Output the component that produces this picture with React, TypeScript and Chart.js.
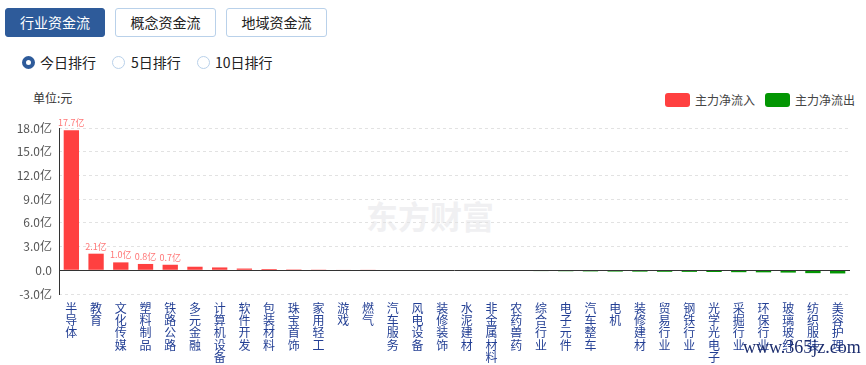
import React, { useEffect, useRef } from "react";
import { Chart, registerables } from "chart.js";

Chart.register(...registerables);

const categories = [
  "半导体", "教育", "文化传媒", "塑料制品", "铁路公路", "多元金融", "计算机设备", "软件开发",
  "包装材料", "珠宝首饰", "家用轻工", "游戏", "燃气", "汽车服务", "风电设备", "装修装饰",
  "水泥建材", "非金属材料", "农药兽药", "综合行业", "电子元件", "汽车整车", "电机", "装修建材",
  "贸易行业", "钢铁行业", "光学光电子", "采掘行业", "环保行业", "玻璃玻纤", "纺织服装", "美容护理",
];

// 主力净流入/流出 (亿元)
const netFlow = [
  17.7, 2.1, 1.0, 0.8, 0.7, 0.45, 0.36, 0.22,
  0.16, 0.11, 0.09, 0.07, 0.05, -0.03, -0.04, -0.05,
  -0.06, -0.07, -0.09, -0.1, -0.12, -0.14, -0.16, -0.17,
  -0.19, -0.2, -0.22, -0.24, -0.26, -0.29, -0.36, -0.4,
];

const seriesNames = ["主力净流入", "主力净流出"];
const yMin = -3;
const yMax = 18;
const yStep = 3;
const labelThreshold = 0.6;

const inflow = netFlow.map((v) => (v > 0 ? v : null));
const outflow = netFlow.map((v) => (v < 0 ? v : null));

const RED = "#ff4040";
const GREEN = "#039603";
const FONT = "'Noto Sans CJK SC', 'Noto Sans', sans-serif";

const overlayPlugin = {
  id: "overlay",
  afterDatasetsDraw(chart: any) {
    const { ctx, chartArea, scales } = chart;
    const y0 = Math.round(scales.y.getPixelForValue(0)) + 0.5;
    ctx.save();
    ctx.strokeStyle = "#333";
    ctx.lineWidth = 1;
    ctx.beginPath();
    ctx.moveTo(chartArea.left, y0);
    ctx.lineTo(chartArea.right, y0);
    ctx.stroke();
    const xa = Math.round(chartArea.left) + 0.5;
    ctx.beginPath();
    ctx.moveTo(xa, chartArea.top);
    ctx.lineTo(xa, chartArea.bottom + 1);
    ctx.stroke();

    const meta = chart.getDatasetMeta(0);
    ctx.font = `9px ${FONT}`;
    ctx.fillStyle = "#ff7676";
    ctx.textAlign = "center";
    ctx.textBaseline = "bottom";
    meta.data.forEach((bar: any, i: number) => {
      const v = inflow[i];
      if (v != null && v >= labelThreshold) {
        ctx.fillText(v.toFixed(1) + "亿", bar.x, bar.y - 3);
      }
    });
    ctx.restore();
  },
};

function FlowChart() {
  const ref = useRef<HTMLCanvasElement | null>(null);
  useEffect(() => {
    if (!ref.current) return;
    const chart = new Chart(ref.current, {
      type: "bar",
      data: {
        labels: categories.map((c) => c.split("")),
        datasets: [
          { label: seriesNames[0], data: inflow as any, backgroundColor: RED, borderWidth: 0 },
          { label: seriesNames[1], data: outflow as any, backgroundColor: GREEN, borderWidth: 0 },
        ],
      },
      options: {
        responsive: false,
        animation: false,
        layout: { padding: { top: 43, right: 16, left: 0, bottom: 0 } },
        datasets: { bar: { categoryPercentage: 1, barPercentage: 0.62 } },
        plugins: { legend: { display: false }, tooltip: { enabled: false } },
        scales: {
          x: {
            stacked: true,
            grid: { display: false, drawTicks: false },
            border: { display: false },
            ticks: {
              autoSkip: false,
              maxRotation: 0,
              minRotation: 0,
              padding: 8,
              color: "#233f94",
              font: { size: 12, lineHeight: 1.03, family: FONT },
            },
            afterFit: (s: any) => {
              s.height = 71;
            },
          },
          y: {
            stacked: true,
            min: yMin,
            max: yMax,
            grid: { color: "#e2e2e2", drawTicks: false, lineWidth: 1 },
            border: { display: false, dash: [3, 3] },
            ticks: {
              stepSize: yStep,
              padding: 7,
              color: "#555",
              font: { size: 12, family: FONT },
              callback: (v: any) => (v === 0 ? "0.0" : Number(v).toFixed(1) + "亿"),
            },
            afterFit: (s: any) => {
              s.width = 59;
            },
          },
        },
      },
      plugins: [overlayPlugin],
    });
    return () => chart.destroy();
  }, []);
  return <canvas ref={ref} width={866} height={280} style={{ width: 866, height: 280, display: "block" }} />;
}

const btnBase: React.CSSProperties = {
  position: "absolute",
  top: 8,
  height: 29,
  width: 101,
  boxSizing: "border-box",
  borderRadius: 3,
  fontSize: 14,
  lineHeight: "27px",
  textAlign: "center",
};

export default function App() {
  const abs = (s: React.CSSProperties): React.CSSProperties => ({ position: "absolute", ...s });
  return (
    <div
      style={{
        position: "fixed",
        left: 0,
        top: 0,
        width: 866,
        height: 365,
        background: "#fff",
        overflow: "hidden",
        fontFamily: FONT,
        color: "#222",
      }}
    >
      <div style={{ ...btnBase, left: 5, width: 100, background: "#2e5b9a", border: "1px solid #2e5b9a", color: "#fff" }}>行业资金流</div>
      <div style={{ ...btnBase, left: 115, background: "#fff", border: "1px solid #b9d1ea" }}>概念资金流</div>
      <div style={{ ...btnBase, left: 226, background: "#fff", border: "1px solid #b9d1ea" }}>地域资金流</div>

      <div style={abs({ left: 21.5, top: 55.5, width: 13, height: 13, borderRadius: "50%", border: "4px solid #2e5b9a", boxSizing: "border-box", background: "#fff" })} />
      <div style={abs({ left: 40, top: 54, fontSize: 14, lineHeight: "16px" })}>今日排行</div>
      <div style={abs({ left: 111.5, top: 55.5, width: 13, height: 13, borderRadius: "50%", border: "1px solid #b9d1ea", boxSizing: "border-box", background: "#fff" })} />
      <div style={abs({ left: 131, top: 54, fontSize: 14, lineHeight: "16px" })}>5日排行</div>
      <div style={abs({ left: 196.5, top: 55.5, width: 13, height: 13, borderRadius: "50%", border: "1px solid #b9d1ea", boxSizing: "border-box", background: "#fff" })} />
      <div style={abs({ left: 215, top: 54, fontSize: 14, lineHeight: "16px" })}>10日排行</div>

      <div style={abs({ left: 33, top: 91, fontSize: 12, lineHeight: "14px", color: "#333" })}>单位:元</div>

      <div style={abs({ left: 665, top: 93, width: 25, height: 14, borderRadius: 3, background: RED })} />
      <div style={abs({ left: 695, top: 92, fontSize: 12, lineHeight: "15px", color: "#444" })}>{seriesNames[0]}</div>
      <div style={abs({ left: 765, top: 93, width: 25, height: 14, borderRadius: 3, background: GREEN })} />
      <div style={abs({ left: 795, top: 92, fontSize: 12, lineHeight: "15px", color: "#444" })}>{seriesNames[1]}</div>

      <div style={abs({ left: 366, top: 195, fontSize: 32, lineHeight: "40px", fontWeight: 700, color: "#f0f0f2" })}>东方财富</div>

      <div style={abs({ left: 0, top: 85, width: 866, height: 280 })}>
        <FlowChart />
      </div>

      <div style={abs({ left: 743, top: 337, fontSize: 18, lineHeight: "20px", fontFamily: "'Liberation Serif', serif", color: "#1c2d6e" })}>www.365jz.com</div>
    </div>
  );
}
